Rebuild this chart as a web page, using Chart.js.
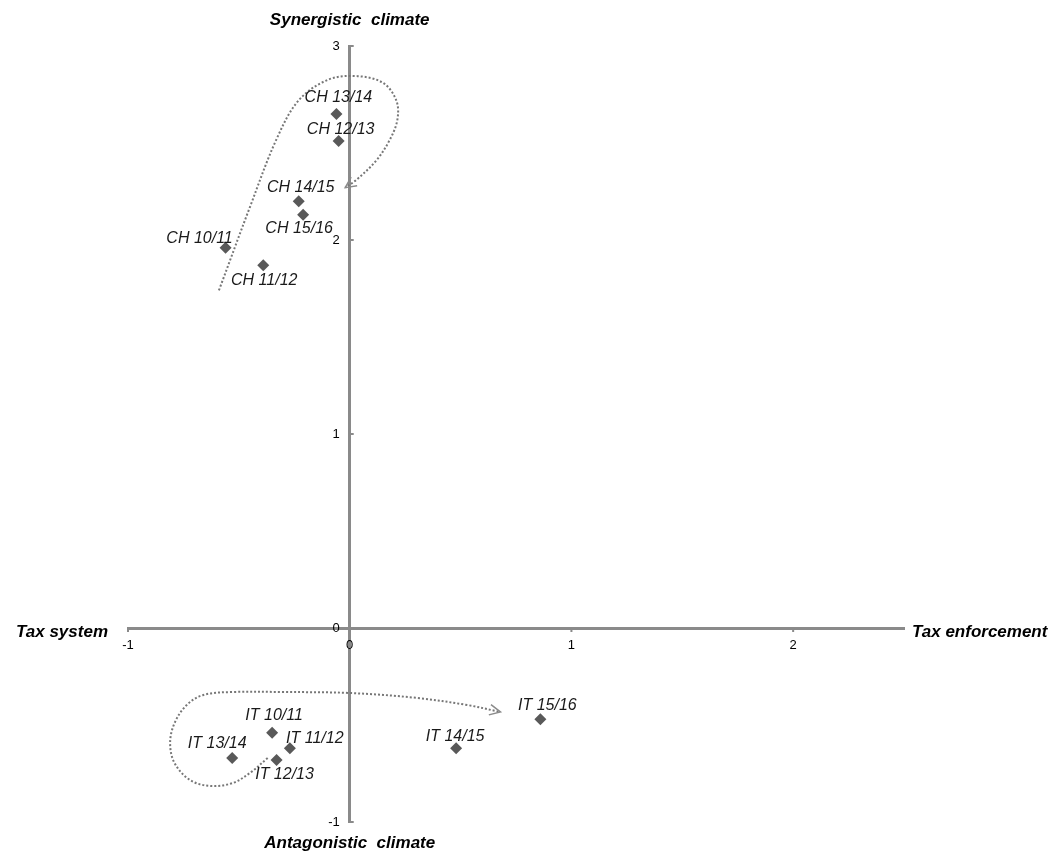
<!DOCTYPE html>
<html lang="en">
<head>
    <meta charset="UTF-8">
    <title>Tax climate</title>
    <script src="https://cdn.jsdelivr.net/npm/chart.js"></script>
    <style>
        body { margin: 0; background: #fff; }
        .chart-container { width: 1061px; height: 853px; }
    </style>
</head>
<body>
    <div class="chart-container">
        <canvas id="climateChart"></canvas>
    </div>

    <script>
        // data
        const labels = ["CH 13/14", "CH 12/13", "CH 14/15", "CH 15/16", "CH 10/11", "CH 11/12",
                        "IT 10/11", "IT 11/12", "IT 12/13", "IT 13/14", "IT 14/15", "IT 15/16"];
        const taxEnforcement = [-0.06, -0.05, -0.23, -0.21, -0.56, -0.39,
                                -0.35, -0.27, -0.33, -0.53, 0.48, 0.86];
        const taxSystem = [2.65, 2.51, 2.20, 2.13, 1.96, 1.87,
                           -0.54, -0.62, -0.68, -0.67, -0.62, -0.47];
        const xTicks = [-1, 0, 1, 2];
        const yTicks = [-1, 0, 1, 2, 3];

        // trend arrows (hand drawn paths in data units)
        const chPathX = [-0.59, -0.45, -0.33, -0.23, -0.10, 0.03, 0.15, 0.21, 0.215, 0.18, 0.12, 0.03, -0.02];
        const chPathY = [1.74, 2.17, 2.52, 2.72, 2.825, 2.845, 2.81, 2.72, 2.62, 2.515, 2.41, 2.31, 2.27];
        const itPathX = [-0.37, -0.45, -0.53, -0.63, -0.72, -0.79, -0.81, -0.79, -0.735, -0.66, -0.53, -0.30, 0.00, 0.30, 0.53, 0.68];
        const itPathY = [-0.67, -0.747, -0.80, -0.814, -0.784, -0.696, -0.593, -0.49, -0.397, -0.345, -0.33, -0.33, -0.335, -0.36, -0.397, -0.433];

        // label offsets in px relative to each marker
        const labelOffset = [[2, -16], [2, -12], [2, -14], [-4, 14], [-26, -9], [1, 15],
                             [2, -17], [25, -10], [8, 15], [-15, -14], [-1, -12], [7, -14]];

        const FONT = "'Liberation Sans', Arial, sans-serif";
        const GREY = '#8a8a8a';

        const points = labels.map((_, i) => ({ x: taxEnforcement[i], y: taxSystem[i] }));
        const toXY = (xs, ys) => xs.map((x, i) => ({ x: x, y: ys[i] }));

        const dottedPath = (data) => ({
            data: data,
            showLine: true,
            tension: 0.35,
            borderColor: '#777',
            borderWidth: 2,
            borderDash: [2, 2],
            pointRadius: 0,
            isPath: true
        });

        const decorations = {
            id: 'decorations',
            afterDatasetsDraw(chart) {
                const ctx = chart.ctx;
                const xs = chart.scales.x, ys = chart.scales.y;
                const area = chart.chartArea;
                const x0 = xs.getPixelForValue(0), y0 = ys.getPixelForValue(0);

                ctx.save();
                // tick marks and tick labels
                ctx.strokeStyle = GREY;
                ctx.lineWidth = 2;
                ctx.fillStyle = '#000';
                ctx.font = '13px ' + FONT;
                ctx.textBaseline = 'middle';
                ctx.textAlign = 'center';
                xTicks.forEach(v => {
                    const px = xs.getPixelForValue(v);
                    ctx.beginPath();
                    ctx.moveTo(px, y0);
                    ctx.lineTo(px, y0 + 4);
                    ctx.stroke();
                    ctx.fillText(String(v), px, y0 + 17);
                });
                ctx.textAlign = 'right';
                yTicks.forEach(v => {
                    const py = ys.getPixelForValue(v);
                    ctx.beginPath();
                    ctx.moveTo(x0, py);
                    ctx.lineTo(x0 + 4, py);
                    ctx.stroke();
                    ctx.fillText(String(v), x0 - 10, py);
                });

                // arrow heads
                chart.data.datasets.forEach(ds => {
                    if (!ds.isPath) return;
                    const n = ds.data.length;
                    const px = xs.getPixelForValue(ds.data[n - 1].x), py = ys.getPixelForValue(ds.data[n - 1].y);
                    const qx = xs.getPixelForValue(ds.data[n - 2].x), qy = ys.getPixelForValue(ds.data[n - 2].y);
                    const a = Math.atan2(py - qy, px - qx);
                    ctx.strokeStyle = GREY;
                    ctx.lineWidth = 1.5;
                    ctx.beginPath();
                    ctx.moveTo(px - 12 * Math.cos(a - 0.45), py - 12 * Math.sin(a - 0.45));
                    ctx.lineTo(px, py);
                    ctx.lineTo(px - 12 * Math.cos(a + 0.45), py - 12 * Math.sin(a + 0.45));
                    ctx.stroke();
                });

                // point labels
                ctx.font = 'italic 16px ' + FONT;
                ctx.fillStyle = '#1a1a1a';
                ctx.textAlign = 'center';
                points.forEach((p, i) => {
                    const x = xs.getPixelForValue(p.x) + labelOffset[i][0];
                    const y = ys.getPixelForValue(p.y) + labelOffset[i][1];
                    ctx.fillText(labels[i], x, y);
                });

                // axis titles
                ctx.font = 'italic bold 17px ' + FONT;
                ctx.fillStyle = '#000';
                ctx.fillText('Synergistic  climate', x0, area.top - 26);
                ctx.fillText('Antagonistic  climate', x0, area.bottom + 21);
                ctx.textAlign = 'right';
                ctx.fillText('Tax system', area.left - 20, y0 + 4);
                ctx.textAlign = 'left';
                ctx.fillText('Tax enforcement', area.right + 8, y0 + 4);
                ctx.restore();
            }
        };

        const ctx = document.getElementById('climateChart').getContext('2d');
        new Chart(ctx, {
            type: 'scatter',
            data: {
                datasets: [
                    {
                        data: points,
                        pointStyle: 'rectRot',
                        pointRadius: 6,
                        pointHoverRadius: 6,
                        backgroundColor: '#595959',
                        borderColor: '#595959',
                        borderWidth: 0
                    },
                    dottedPath(toXY(chPathX, chPathY)),
                    dottedPath(toXY(itPathX, itPathY))
                ]
            },
            options: {
                responsive: true,
                maintainAspectRatio: false,
                animation: false,
                layout: { padding: { left: 128, right: 157, top: 46, bottom: 31 } },
                plugins: {
                    legend: { display: false },
                    tooltip: { enabled: false }
                },
                scales: {
                    x: {
                        type: 'linear',
                        min: -1,
                        max: 2.5,
                        position: { y: 0 },
                        afterBuildTicks: axis => { axis.ticks = xTicks.map(v => ({ value: v })); },
                        border: { color: GREY, width: 3 },
                        grid: { display: false },
                        ticks: { display: false }
                    },
                    y: {
                        type: 'linear',
                        min: -1,
                        max: 3,
                        position: { x: 0 },
                        afterBuildTicks: axis => { axis.ticks = yTicks.map(v => ({ value: v })); },
                        border: { color: GREY, width: 3 },
                        grid: { display: false },
                        ticks: { display: false }
                    }
                }
            },
            plugins: [decorations]
        });
    </script>
</body>
</html>
